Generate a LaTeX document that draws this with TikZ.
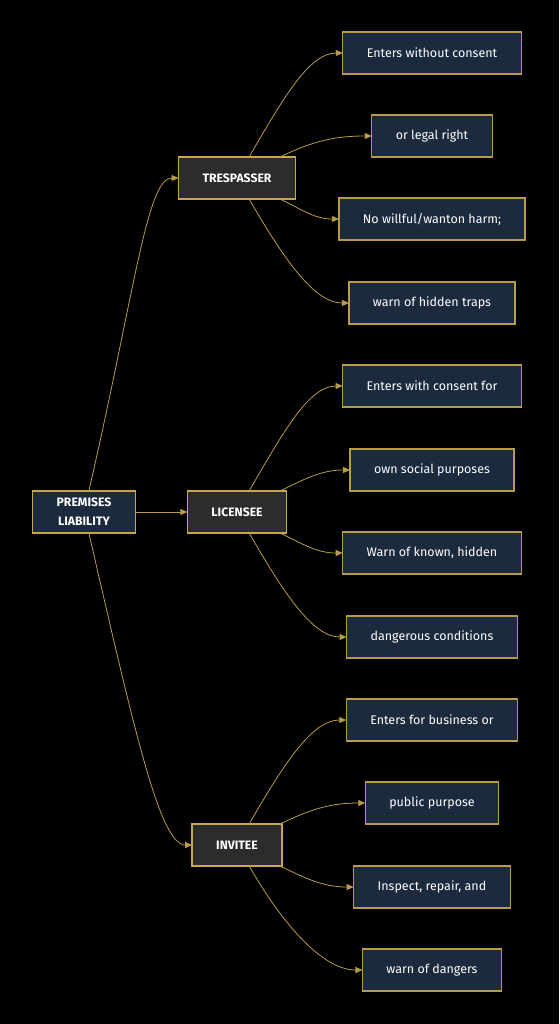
\documentclass[tikz,border=0pt]{standalone}
\usepackage{fontspec}
\setmainfont{Fira Sans}
\usepackage{tkz-graph}
\usetikzlibrary{arrows.meta}
\definecolor{gold}{HTML}{C9A84C}
\definecolor{linegold}{HTML}{B89A48}
\definecolor{navy}{HTML}{1C2A3E}
\definecolor{slate}{HTML}{2C2C2C}

\begin{document}
\begin{tikzpicture}[x=1pt,y=1pt]
			\tikzstyle{VertexStyle} = [shape=rectangle, text=white, align=center,
			                           minimum height=42pt, inner xsep=24pt]
			\tikzstyle{MainStyle}   = [draw=gold, line width=1.6pt, fill=slate, font=\bfseries\fontsize{12.2}{19}\selectfont]
			\tikzstyle{LeafStyle}   = [fill=navy, draw=linegold, line width=1.3pt, font=\fontsize{12.5}{19}\selectfont]
			\tikzstyle{EdgeStyle}   = [-{Triangle[length=7pt,width=6pt]}, draw=linegold, line width=0.8pt]
			\tikzstyle{UpFar}       = [out=60, in=180, out looseness=1.3, in looseness=0.6]
			\tikzstyle{UpNear}      = [out=26, in=180]
			\tikzstyle{DownNear}    = [out=-26, in=180]
			\tikzstyle{DownFar}     = [out=-60, in=180, out looseness=1.3, in looseness=0.6]

			\fill[black] (0,0) rectangle (559,-1024);

			\Vertex[x=84,y=-512,L={PREMISES\\LIABILITY},style={MainStyle,fill=navy,minimum height=62pt}]{Root}
			\Vertex[x=237,y=-178,L={TRESPASSER},style={MainStyle}]{Trespasser}
			\Vertex[x=237,y=-512,L={LICENSEE},style={MainStyle}]{Licensee}
			\Vertex[x=237,y=-845,L={INVITEE},style={MainStyle}]{Invitee}

			\Vertex[x=432,y=-53,L={Enters without consent},style={LeafStyle}]{T1}
			\Vertex[x=432,y=-136,L={or legal right},style={LeafStyle}]{T2}
			\Vertex[x=432,y=-219,L={No willful/wanton harm;},style={LeafStyle}]{T3}
			\Vertex[x=432,y=-303,L={warn of hidden traps},style={LeafStyle}]{T4}
			\Vertex[x=432,y=-386,L={Enters with consent for},style={LeafStyle}]{L1}
			\Vertex[x=432,y=-470,L={own social purposes},style={LeafStyle}]{L2}
			\Vertex[x=432,y=-553,L={Warn of known, hidden},style={LeafStyle}]{L3}
			\Vertex[x=432,y=-637,L={dangerous conditions},style={LeafStyle}]{L4}
			\Vertex[x=432,y=-720,L={Enters for business or},style={LeafStyle}]{I1}
			\Vertex[x=432,y=-803,L={public purpose},style={LeafStyle}]{I2}
			\Vertex[x=432,y=-887,L={Inspect, repair, and},style={LeafStyle}]{I3}
			\Vertex[x=432,y=-970,L={warn of dangers},style={LeafStyle}]{I4}

			\Edge[style={out=77,in=180,out looseness=1.6,in looseness=0.25}](Root)(Trespasser)
			\Edge(Root)(Licensee)
			\Edge[style={out=-77,in=180,out looseness=1.6,in looseness=0.25}](Root)(Invitee)

			\Edge[style={UpFar}](Trespasser)(T1) \Edge[style={UpNear}](Trespasser)(T2)
			\Edge[style={DownNear}](Trespasser)(T3) \Edge[style={DownFar}](Trespasser)(T4)
			\Edge[style={UpFar}](Licensee)(L1) \Edge[style={UpNear}](Licensee)(L2)
			\Edge[style={DownNear}](Licensee)(L3) \Edge[style={DownFar}](Licensee)(L4)
			\Edge[style={UpFar}](Invitee)(I1) \Edge[style={UpNear}](Invitee)(I2)
			\Edge[style={DownNear}](Invitee)(I3) \Edge[style={DownFar}](Invitee)(I4)
		\end{tikzpicture}
\end{document}
